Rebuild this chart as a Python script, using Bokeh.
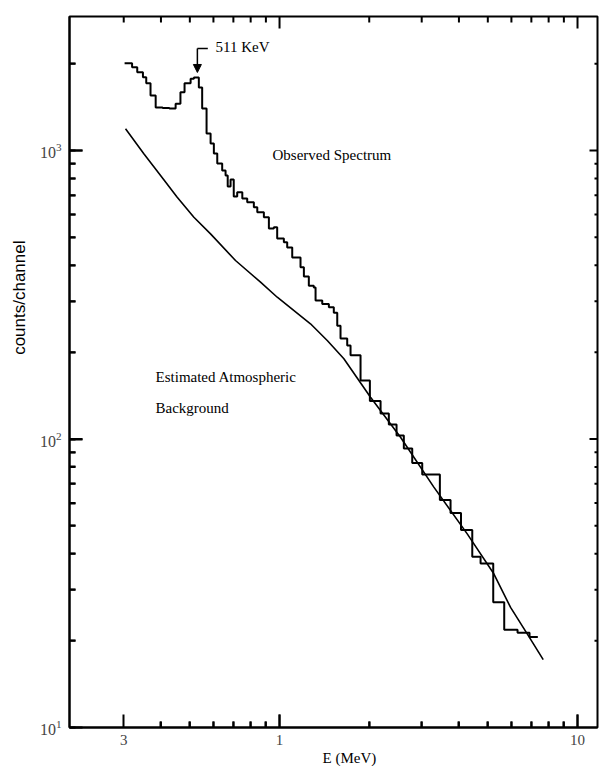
import math
from bokeh.plotting import figure
from bokeh.models import (FixedTicker, LogTicker, Label, Arrow, NormalHead, Range1d,
                          BasicTickFormatter, Title)
from bokeh.embed import file_html
from bokeh.resources import INLINE

# ---- Observed spectrum: channel edges (MeV) and counts/channel ----
obs_edges = [0.302, 0.320, 0.333, 0.348, 0.357, 0.369, 0.384, 0.405, 0.427, 0.448,
             0.465, 0.480, 0.503, 0.516, 0.536, 0.550, 0.569, 0.587, 0.602, 0.618,
             0.642, 0.659, 0.670, 0.685, 0.702, 0.721, 0.750, 0.779, 0.820, 0.842,
             0.886, 0.921, 0.957, 0.982, 1.034, 1.061, 1.103, 1.176, 1.207, 1.254,
             1.303, 1.321, 1.391, 1.464, 1.521, 1.562, 1.602, 1.687, 1.731, 1.870,
             2.010, 2.183, 2.327, 2.470, 2.613, 2.788, 3.012, 3.452, 3.749, 4.065,
             4.434, 4.728, 5.214, 5.676, 6.292, 6.902, 7.359]
obs_counts = [2007, 1944, 1868, 1795, 1711, 1551, 1409, 1404, 1398, 1452,
              1592, 1711, 1772, 1791, 1653, 1398, 1145, 1057, 976, 901,
              852, 819, 750, 793, 693, 717, 682, 662, 636, 611,
              587, 537, 542, 495, 481, 461, 426, 394, 366, 340,
              335, 302, 294, 286, 274, 247, 223, 211, 195, 159.5,
              135.4, 122.6, 112.3, 102.8, 92.7, 82.6, 75.3, 61.5, 55.4, 48.4,
              39.1, 37.0, 27.2, 21.8, 21.3, 20.6]

# ---- Estimated atmospheric background ----
bg_energy = [0.3042, 0.3504, 0.3988, 0.4535, 0.5159, 0.5868, 0.7115, 0.8634, 0.9824, 1.270,
             1.446, 1.644, 2.020, 2.547, 3.295, 4.265, 5.238, 5.961, 6.780, 7.672]
bg_counts = [1189, 974, 819, 689, 587, 514, 415.6, 349.6, 310, 250.8,
             219.5, 189.7, 139.6, 101.4, 68.1, 46.9, 34.1, 26.1, 21.1, 17.2]

# ---- Axes ----
x_lo, x_hi = 0.1973, 11.67
y_lo, y_hi = 10, 2914
x_major = [0.3, 1, 10]
x_major_labels = ["3", "1", "10"]
x_long = [1, 10]
x_short = [0.3, 0.4, 0.5, 0.6, 0.7, 0.8, 0.9, 2, 3, 4, 5, 6, 7, 8, 9]
y_long = [100, 1000]
y_short = [20, 30, 40, 50, 60, 70, 80, 90, 200, 300, 400, 500, 600, 700, 800, 900, 2000]

SERIF = "Liberation Serif"
FRAME_W, FRAME_H = 528, 711

p = figure(width=599, height=766, x_axis_type="log", y_axis_type="log",
           x_range=Range1d(x_lo, x_hi), y_range=Range1d(y_lo, y_hi),
           output_backend="svg", toolbar_location=None,
           min_border_left=69, min_border_right=2, min_border_top=16, min_border_bottom=39)
p.xgrid.visible = False
p.ygrid.visible = False
p.outline_line_color = "black"
p.outline_line_width = 2
p.background_fill_color = "white"
p.border_fill_color = "white"

for ax in (p.xaxis[0], p.yaxis[0]):
    ax.major_tick_in = 13
    ax.major_tick_out = 0
    ax.minor_tick_in = 6
    ax.minor_tick_out = 0
    ax.axis_line_width = 2
    ax.major_tick_line_width = 2
    ax.minor_tick_line_width = 2

xa = p.xaxis[0]
xa.ticker = FixedTicker(ticks=x_major, minor_ticks=x_short[1:])
xa.formatter = BasicTickFormatter()
xa.major_label_overrides = {t: lab for t, lab in zip(x_major, x_major_labels)}
xa.major_label_text_font = SERIF
xa.major_label_text_font_size = "15px"
xa.major_label_standoff = 7

ya = p.yaxis[0]
ya.ticker = LogTicker(num_minor_ticks=10)
ya.major_label_text_font = SERIF
ya.major_label_text_font_size = "16px"
ya.major_label_standoff = 8

# ---- Frame tick marks (inward), built from the tick value lists ----
px_per_dec_x = FRAME_W / math.log10(x_hi / x_lo)
px_per_dec_y = FRAME_H / math.log10(y_hi / y_lo)


def xticks(vals, length, at_top):
    f = 10 ** (length / px_per_dec_y)
    y0 = y_hi if at_top else y_lo
    y1 = y0 / f if at_top else y0 * f
    p.segment(x0=vals, y0=[y0] * len(vals), x1=vals, y1=[y1] * len(vals),
              line_color="black", line_width=2)


def yticks(vals, length, at_right):
    f = 10 ** (length / px_per_dec_x)
    x0 = x_hi if at_right else x_lo
    x1 = x0 / f if at_right else x0 * f
    p.segment(x0=[x0] * len(vals), y0=vals, x1=[x1] * len(vals), y1=vals,
              line_color="black", line_width=2)


xticks(x_long, 13, False)
xticks(x_short[1:], 6, False)
xticks(x_long, 12, True)
xticks(x_short, 6, True)
yticks(y_long, 13, False)
yticks(y_short, 6, False)
yticks(y_long, 8, True)
yticks(y_short, 3, True)

# ---- Data ----
p.step(x=obs_edges, y=obs_counts + [obs_counts[-1]], mode="after",
       line_color="black", line_width=2)
p.line(x=bg_energy, y=bg_counts, line_color="black", line_width=1.6)

# ---- Annotations ----
p.line(x=[0.5745, 0.53], y=[2257, 2257], line_color="black", line_width=1.5)
p.add_layout(Arrow(end=NormalHead(size=8, fill_color="black", line_color="black"),
                   x_start=0.53, y_start=2257, x_end=0.53, y_end=1864,
                   line_color="black", line_width=1.5))


def txt(x, y, s, size="15px", **kw):
    p.add_layout(Label(x=x, y=y, text=s, text_font=SERIF, text_font_size=size,
                       text_color="black", text_baseline="middle", **kw))


txt(0.610, 2293, "511 KeV")
txt(0.947, 961, "Observed Spectrum")
txt(0.3836, 163.4, "Estimated Atmospheric")
txt(0.3836, 127.6, "Background")

# axis titles in the margins
p.add_layout(Title(text="counts/channel", align="right", offset=224, standoff=15,
                   text_font="Liberation Sans", text_font_size="17px",
                   text_font_style="normal", text_color="black"), "left")
p.add_layout(Title(text="E (MeV)", align="left", offset=253, standoff=0,
                   text_font=SERIF, text_font_size="15px",
                   text_font_style="normal", text_color="black"), "below")

open("out.html", "w").write(file_html(p, INLINE))
